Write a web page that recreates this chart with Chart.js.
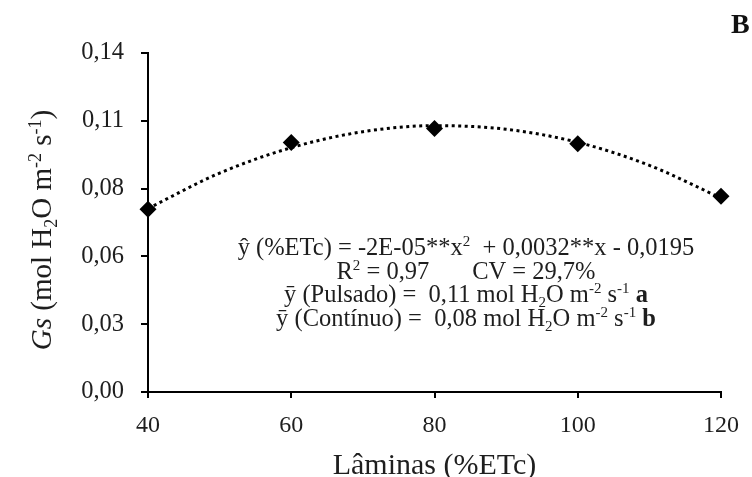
<!DOCTYPE html>
<html><head><meta charset="utf-8">
<script src="https://cdn.jsdelivr.net/npm/chart.js@4"></script>
<style>html,body{margin:0;padding:0;background:#fff}canvas{display:block}</style>
</head><body>
<canvas id="c" width="752" height="477"></canvas>
<script>
const laminas = [40, 60, 80, 100, 120];
const gsValues = [0.0755, 0.1030, 0.1088, 0.1025, 0.0808];
const trendX = [40, 50, 60, 70, 80, 90, 100, 110, 120];
const trendY = [0.0758, 0.0904, 0.1009, 0.1075, 0.1100, 0.1085, 0.1031, 0.0936, 0.0801];
const yTickValues = [0, 0.028, 0.056, 0.084, 0.112, 0.14];
const yTickLabels = ['0,00', '0,03', '0,06', '0,08', '0,11', '0,14'];
const xTickLabels = ['40', '60', '80', '100', '120'];
const xTitle = 'Lâminas (%ETc)';

const FAM = '"Liberation Serif", "Times New Roman", serif';
const INK = '#1e1e1e';

function drawRich(ctx, segs, cx, baseY, size) {
  const fontFor = s => `${s.i ? 'italic ' : ''}${s.b ? 'bold ' : ''}${(s.sup || s.sub) ? Math.round(size * 0.62) : size}px ${FAM}`;
  let total = 0;
  segs.forEach(s => { ctx.font = fontFor(s); s.w = ctx.measureText(s.t).width; total += s.w; });
  let x = cx - total / 2;
  ctx.textAlign = 'left';
  ctx.textBaseline = 'alphabetic';
  segs.forEach(s => {
    ctx.font = fontFor(s);
    const dy = s.sup ? -size * 0.36 : (s.sub ? size * 0.2 : 0);
    ctx.fillText(s.t, x, baseY + dy);
    x += s.w;
  });
}

const annotLines = [
  [{t:'ŷ (%ETc) = -2E-05**x'},{t:'2',sup:1},{t:'  + 0,0032**x - 0,0195'}],
  [{t:'R'},{t:'2',sup:1},{t:' = 0,97       CV = 29,7%'}],
  [{t:'ȳ (Pulsado) =  0,11 mol H'},{t:'2',sub:1},{t:'O m'},{t:'-2',sup:1},{t:' s'},{t:'-1',sup:1},{t:' '},{t:'a',b:1}],
  [{t:'ȳ (Contínuo) =  0,08 mol H'},{t:'2',sub:1},{t:'O m'},{t:'-2',sup:1},{t:' s'},{t:'-1',sup:1},{t:' '},{t:'b',b:1}]
];
const yTitleSegs = [{t:'Gs',i:1},{t:' (mol H'},{t:'2',sub:1},{t:'O m'},{t:'-2',sup:1},{t:' s'},{t:'-1',sup:1},{t:')'}];

const textPlugin = {
  id: 'texts',
  afterDraw(chart) {
    const ctx = chart.ctx;
    ctx.save();
    ctx.fillStyle = INK;
    const baseYs = [255, 279, 302, 326];
    annotLines.forEach((segs, i) => drawRich(ctx, segs, 466, baseYs[i], 24.5));
    // y title
    ctx.save();
    ctx.translate(41, 230);
    ctx.rotate(-Math.PI / 2);
    drawRich(ctx, yTitleSegs, 0, 10, 29);
    ctx.restore();
    // panel letter
    ctx.font = `bold 28px ${FAM}`;
    ctx.textAlign = 'left';
    ctx.textBaseline = 'alphabetic';
    ctx.fillStyle = '#111';
    ctx.fillText('B', 731, 33);
    ctx.restore();
  }
};

new Chart(document.getElementById('c'), {
  type: 'scatter',
  data: {
    datasets: [
      {
        type: 'line',
        data: trendX.map((x, i) => ({x, y: trendY[i]})),
        borderColor: '#000',
        borderWidth: 3,
        borderDash: [3, 3.5],
        pointRadius: 0,
        cubicInterpolationMode: 'monotone',
        fill: false,
        clip: false,
        order: 2
      },
      {
        data: laminas.map((x, i) => ({x, y: gsValues[i]})),
        pointStyle: 'rectRot',
        pointRadius: 8.5,
        pointHoverRadius: 8.5,
        backgroundColor: '#000',
        borderColor: '#000',
        borderWidth: 0,
        clip: false,
        order: 1
      }
    ]
  },
  options: {
    responsive: false,
    animation: false,
    layout: {padding: {left: 0, right: 27, top: 53, bottom: 0}},
    plugins: {legend: {display: false}, tooltip: {enabled: false}},
    scales: {
      x: {
        type: 'linear',
        min: 40, max: 120,
        afterBuildTicks: s => { s.ticks = laminas.map(v => ({value: v})); },
        afterFit: s => { s.height = 85; },
        grid: {drawOnChartArea: false, drawTicks: true, tickLength: 6, color: '#000', lineWidth: 2},
        border: {display: true, color: '#000', width: 2},
        ticks: {
          callback: (v, i) => xTickLabels[i],
          font: {family: FAM, size: 24},
          color: INK,
          padding: 13,
          maxRotation: 0
        },
        title: {
          display: true,
          text: xTitle,
          font: {family: FAM, size: 30, lineHeight: 0.75},
          color: INK,
          padding: {top: 0, bottom: 0}
        }
      },
      y: {
        min: 0, max: 0.14,
        afterBuildTicks: s => { s.ticks = yTickValues.map(v => ({value: v})); },
        afterFit: s => { s.width = 148; },
        grid: {drawOnChartArea: false, drawTicks: true, tickLength: 7, color: '#000', lineWidth: 2},
        border: {display: true, color: '#000', width: 2},
        ticks: {
          callback: (v, i) => yTickLabels[i],
          font: {family: FAM, size: 24.5},
          color: INK,
          padding: 17
        }
      }
    }
  },
  plugins: [textPlugin]
});
</script>
</body></html>
